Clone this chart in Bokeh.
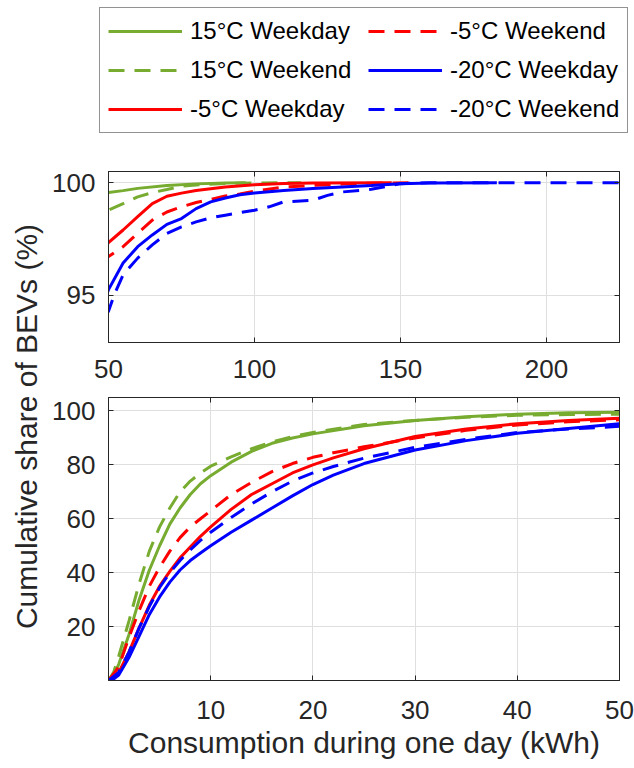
import numpy as np
from bokeh.plotting import figure
from bokeh.models import FixedTicker, LinearAxis, Legend, LegendItem, Label, Range1d
from bokeh.layouts import column, row
from bokeh.embed import file_html
from bokeh.resources import INLINE

FONT = "Liberation Sans"
AX = "#262626"

# ---------------- data ----------------
series_labels = ["15°C Weekday", "15°C Weekend", "-5°C Weekday",
                 "-5°C Weekend", "-20°C Weekday", "-20°C Weekend"]
series_colors = ["#77AC30", "#77AC30", "#FF0000", "#FF0000", "#0000FF", "#0000FF"]
series_dashes = ["solid", "16 10", "solid", "16 10", "solid", "16 10"]

# consumption (kWh) and cumulative share (%)
g_wd_x = [0, 0.5, 1, 2, 3, 4, 5, 6, 7, 8, 9, 10, 12, 14, 16, 18, 20, 25, 30, 35, 40, 45, 50,
          55, 60, 70, 80, 90, 97]
g_wd_y = [0, 2, 6, 17, 30, 41, 50, 58, 64, 69, 73, 76, 81, 85, 88, 90, 91.5, 94.5, 96.5, 97.9,
          98.8, 99.3, 99.57, 99.65, 99.75, 99.88, 99.95, 99.99, 100]

g_we_x = [0, 0.5, 1, 2, 3, 4, 5, 6, 7, 8, 9, 10, 12, 14, 16, 18, 20, 25, 30, 35, 40, 45, 50,
          55, 60, 65, 70, 75, 80, 90, 100, 116]
g_we_y = [0, 3, 9, 22, 36, 48, 57, 64, 70, 74, 77, 79.5, 83, 86, 88.5, 90.5, 92, 95, 96.5, 97.7,
          98.4, 98.7, 98.78, 99.07, 99.37, 99.56, 99.7, 99.85, 99.9, 99.97, 99.99, 100]

r_wd_x = [0, 1, 2, 3, 4, 5, 6, 7, 8, 9, 10, 12, 14, 16, 18, 20, 22, 25, 30, 35, 40, 45, 50,
          55, 60, 65, 70, 75, 80, 90, 100, 110, 120, 147]
r_wd_y = [0, 3, 10.5, 19.5, 28, 35, 40.5, 45.5, 49.5, 53.5, 57, 63.5, 69, 73, 77, 80, 82.6, 86,
          90.5, 93.3, 95.3, 96.5, 97.34, 97.9, 98.49, 99.07, 99.4, 99.54, 99.66, 99.81, 99.91,
          99.97, 99.99, 100]

r_we_x = [0, 1, 2, 3, 4, 5, 6, 7, 8, 9, 10, 12, 14, 16, 18, 20, 22, 25, 30, 35, 40, 45, 50,
          55, 60, 65, 70, 75, 80, 85, 90, 95, 100, 110, 120, 130, 140, 155]
r_we_y = [0, 5, 16, 26, 35, 42, 48, 53, 57, 60, 63, 69, 73.5, 77.5, 80.5, 82.8, 84.5, 86.7, 90,
          92.8, 94.8, 96, 96.72, 97.16, 97.75, 98.34, 98.7, 98.93, 99.12, 99.26, 99.41, 99.5,
          99.62, 99.81, 99.88, 99.94, 99.98, 100]

b_wd_x = [0, 0.5, 1, 2, 3, 4, 5, 6, 7, 8, 9, 10, 12, 14, 16, 18, 20, 22, 25, 30, 35, 40, 45, 50,
          55, 60, 65, 70, 75, 80, 85, 90, 95, 100, 110, 120, 130, 140, 150, 160, 183]
b_wd_y = [0, 0.5, 2, 8.5, 16.5, 24.5, 31, 36.5, 41, 44.5, 47.3, 50, 55, 59.5, 64, 68.5, 72.7,
          76.2, 80.5, 85.5, 89, 91.7, 93.5, 95.25, 96.43, 97.16, 97.68, 98.15, 98.41, 98.85,
          99.15, 99.32, 99.47, 99.54, 99.66, 99.74, 99.81, 99.88, 99.96, 99.99, 100]

b_we_x = [0, 1, 2, 3, 4, 5, 6, 7, 8, 9, 10, 12, 14, 16, 18, 20, 22, 25, 30, 35, 40, 45, 50,
          52, 55, 60, 65, 70, 75, 80, 85, 90, 100, 105, 110, 120, 125, 130, 140, 150, 160, 225]
b_we_y = [0, 3, 10.5, 19.5, 27.5, 34.5, 40, 44.5, 48.5, 52, 55, 60.5, 65.5, 70, 74, 77, 79.4,
          82.5, 86.5, 89.5, 92, 93.3, 94.29, 95.03, 95.91, 96.65, 97.24, 97.75, 98.04, 98.26,
          98.44, 98.56, 98.78, 98.93, 99.15, 99.22, 99.44, 99.59, 99.71, 99.96, 100, 100]

series_x = [g_wd_x, g_we_x, r_wd_x, r_we_x, b_wd_x, b_we_x]
series_y = [g_wd_y, g_we_y, r_wd_y, r_we_y, b_wd_y, b_we_y]

top_xticks = [50, 100, 150, 200]
top_yticks = [95, 100]
bot_xticks = [10, 20, 30, 40, 50]
bot_yticks = [20, 40, 60, 80, 100]

x_title = "Consumption during one day (kWh)"
y_title = "Cumulative share of BEVs (%)"


def make_panel(xr, yr, xt, yt, fh, mt, mb, xstand, xlabel=None):
    p = figure(frame_width=511, frame_height=fh, min_border_left=62, min_border_right=15,
               min_border_top=mt, min_border_bottom=mb,
               x_range=Range1d(*xr), y_range=Range1d(*yr),
               output_backend="svg", toolbar_location=None)
    p.outline_line_color = AX
    p.outline_line_width = 1
    p.background_fill_color = "white"
    p.border_fill_color = "white"
    xa = p.below[0]
    ya = p.left[0]
    for ax, ticks in ((xa, xt), (ya, yt)):
        ax.ticker = FixedTicker(ticks=ticks)
        ax.major_tick_in = 5
        ax.major_tick_out = 0
        ax.minor_tick_line_color = None
        ax.axis_line_color = AX
        ax.major_tick_line_color = AX
        ax.major_label_text_font = FONT
        ax.major_label_text_font_size = "26px"
        ax.major_label_text_color = AX
    xa.major_label_standoff = xstand
    ya.major_label_standoff = 13
    if xlabel:
        xa.axis_label = xlabel
        xa.axis_label_standoff = 4
        xa.axis_label_text_font = FONT
        xa.axis_label_text_font_size = "30px"
        xa.axis_label_text_font_style = "normal"
        xa.axis_label_text_color = AX
    p.grid.grid_line_color = "#dfdfdf"
    p.grid.grid_line_width = 1
    for side, ticks in (("right", yt), ("above", xt)):
        a = LinearAxis(ticker=FixedTicker(ticks=ticks), major_tick_in=5, major_tick_out=0,
                       minor_tick_line_color=None, major_label_text_font_size="1px",
                       major_label_text_color=None,
                       major_label_standoff=0, axis_line_color=AX, major_tick_line_color=AX)
        p.add_layout(a, side)
    for xs, ys, c, d in zip(series_x, series_y, series_colors, series_dashes):
        p.line(xs, ys, line_color=c, line_width=3, line_dash=d)
    return p


top = make_panel((50, 225), (92.9, 100.5), top_xticks, top_yticks, 171, 21, 50, 17)
bot = make_panel((0, 50), (0, 105), bot_xticks, bot_yticks, 283, 5, 80, 20, x_title)

# y title figure
yl = figure(frame_width=46, frame_height=618, min_border=0, x_axis_type=None, y_axis_type=None,
            x_range=Range1d(0, 1), y_range=Range1d(0, 1),
            output_backend="svg", toolbar_location=None)
yl.outline_line_color = None
yl.grid.visible = False
yl.add_layout(Label(x=26, y=342, x_units="screen", y_units="screen", text=y_title,
                    angle=np.pi / 2, text_align="center", text_baseline="middle",
                    text_font=FONT, text_font_size="30px", text_color=AX))

# legend figure (its lines lie outside its own ranges, only the legend shows)
leg = figure(frame_width=535, frame_height=143, min_border_left=99, min_border_right=0,
             min_border_top=7, min_border_bottom=0, x_axis_type=None, y_axis_type=None,
             x_range=Range1d(1000, 1001), y_range=Range1d(1000, 1001),
             output_backend="svg", toolbar_location=None)
leg.outline_line_color = None
leg.grid.visible = False
items = []
for xs, ys, lab, c, d in zip(series_x, series_y, series_labels, series_colors, series_dashes):
    r = leg.line(xs, ys, line_color=c, line_width=3, line_dash=d)
    items.append(LegendItem(label=lab, renderers=[r]))
legend = Legend(items=items, location="top_left", orientation="vertical", nrows=3,
                margin=0, padding=8, spacing=9, glyph_width=74, glyph_height=30,
                label_standoff=8, label_width=169, label_text_font=FONT,
                label_text_font_size="24px", label_text_color="#000000",
                border_line_color=AX, border_line_width=1, background_fill_alpha=1)
leg.add_layout(legend, "center")

layout = column(leg, row(yl, column(top, bot)))

open("out.html", "w").write(file_html(layout, INLINE))
